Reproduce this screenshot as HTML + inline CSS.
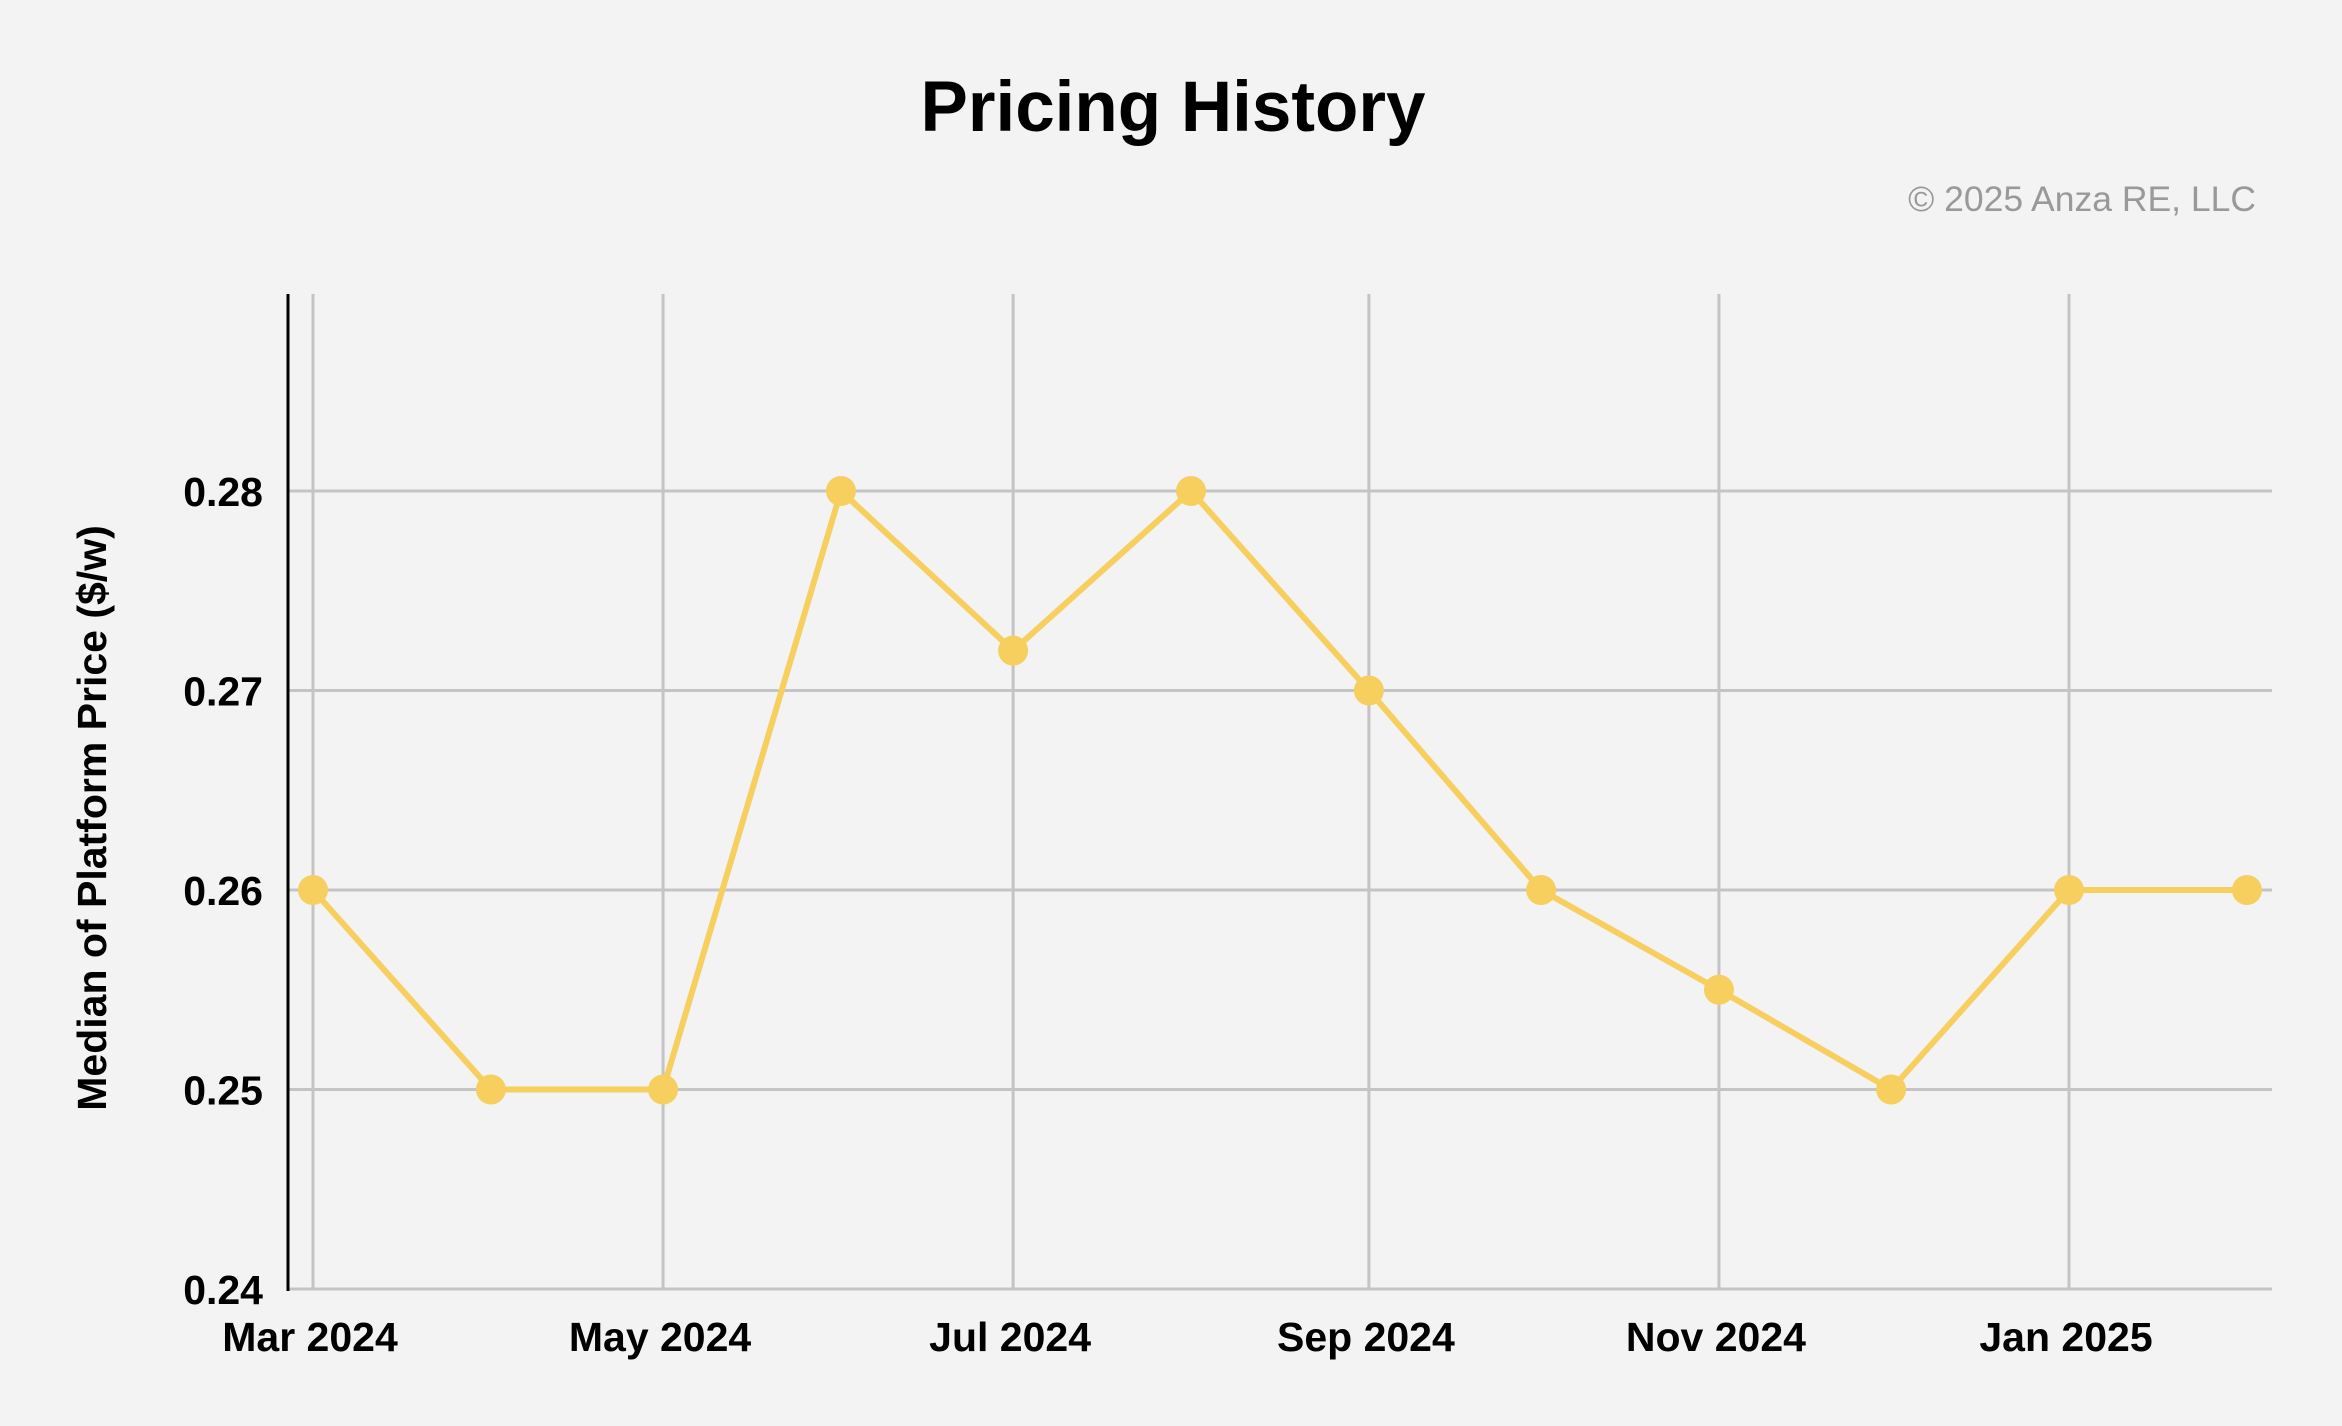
<!DOCTYPE html>
<html><head><meta charset="utf-8"><style>
html,body{margin:0;padding:0;background:#f3f3f3;}
svg{display:block;font-family:"Liberation Sans",Arial,sans-serif;}
</style></head><body>
<svg id="chart" width="2342" height="1426" viewBox="0 0 2342 1426" xmlns="http://www.w3.org/2000/svg">
<rect width="2342" height="1426" fill="#f3f3f3"/>
<text x="1173" y="131" text-anchor="middle" font-size="71" font-weight="bold" fill="#000">Pricing History</text>
<text x="2256" y="211" text-anchor="end" font-size="35.5" fill="#999">© 2025 Anza RE, LLC</text>
<text transform="translate(106,818) rotate(-90)" text-anchor="middle" font-size="41" font-weight="bold" fill="#000">Median of Platform Price ($/w)</text>
<g id="grid"></g>
<g id="axes"></g>
<g id="series"></g>
</svg>
<script>
const dates = ["2024-03-01","2024-04-01","2024-05-01","2024-06-01","2024-07-01","2024-08-01","2024-09-01","2024-10-01","2024-11-01","2024-12-01","2025-01-01","2025-02-01"];
const prices = [0.26,0.25,0.25,0.28,0.272,0.28,0.27,0.26,0.255,0.25,0.26,0.26];
const yTicks = [0.24,0.25,0.26,0.27,0.28];
const yTickLabels = ["0.24","0.25","0.26","0.27","0.28"];
const xTicks = ["2024-03-01","2024-05-01","2024-07-01","2024-09-01","2024-11-01","2025-01-01"];
const xTickLabels = ["Mar 2024","May 2024","Jul 2024","Sep 2024","Nov 2024","Jan 2025"];

const NS="http://www.w3.org/2000/svg";
const plotL=288, plotR=2272, plotT=294, plotB=1289;
const d0=Date.parse("2024-03-01"), d1=Date.parse("2025-01-01");
const x0=313, x1=2069;
function xScale(d){return x0+(Date.parse(d)-d0)/(d1-d0)*(x1-x0);}
function yScale(v){return plotB-(v-0.24)/(0.28-0.24)*(plotB-491);}
function mk(tag,attrs,parent){const e=document.createElementNS(NS,tag);for(const k in attrs)e.setAttribute(k,attrs[k]);parent.appendChild(e);return e;}
const grid=document.getElementById('grid'), axes=document.getElementById('axes'), series=document.getElementById('series');

yTicks.forEach((v,i)=>{
  const y=yScale(v);
  const l=mk('line',{x1:plotL,x2:plotR,y1:y,y2:y,stroke:'#c4c4c4','stroke-width':3},grid);
  
  
  const t=mk('text',{x:263,y:y+15,'text-anchor':'end','font-size':41,'font-weight':'bold',fill:'#000'},axes);
  t.textContent=yTickLabels[i];
  
  
});
xTicks.forEach((d,i)=>{
  const x=xScale(d);
  const l=mk('line',{x1:x,x2:x,y1:plotT,y2:plotB,stroke:'#c4c4c4','stroke-width':3},grid);
  
  
  const t=mk('text',{x:x-3,y:1351,'text-anchor':'middle','font-size':41,'font-weight':'bold',fill:'#000'},axes);
  t.textContent=xTickLabels[i];
  
  
});
const ya=mk('line',{x1:plotL,x2:plotL,y1:plotT,y2:plotB+2,stroke:'#000','stroke-width':3},axes);



const pts=dates.map((d,i)=>xScale(d)+','+yScale(prices[i])).join(' ');
const pl=mk('polyline',{points:pts,fill:'none',stroke:'#f6cf5f','stroke-width':6,'stroke-linejoin':'round'},series);


dates.forEach((d,i)=>{
  const c=mk('circle',{cx:xScale(d),cy:yScale(prices[i]),r:15,fill:'#f6cf5f'},series);
  
  
});
</script>
</body></html>
